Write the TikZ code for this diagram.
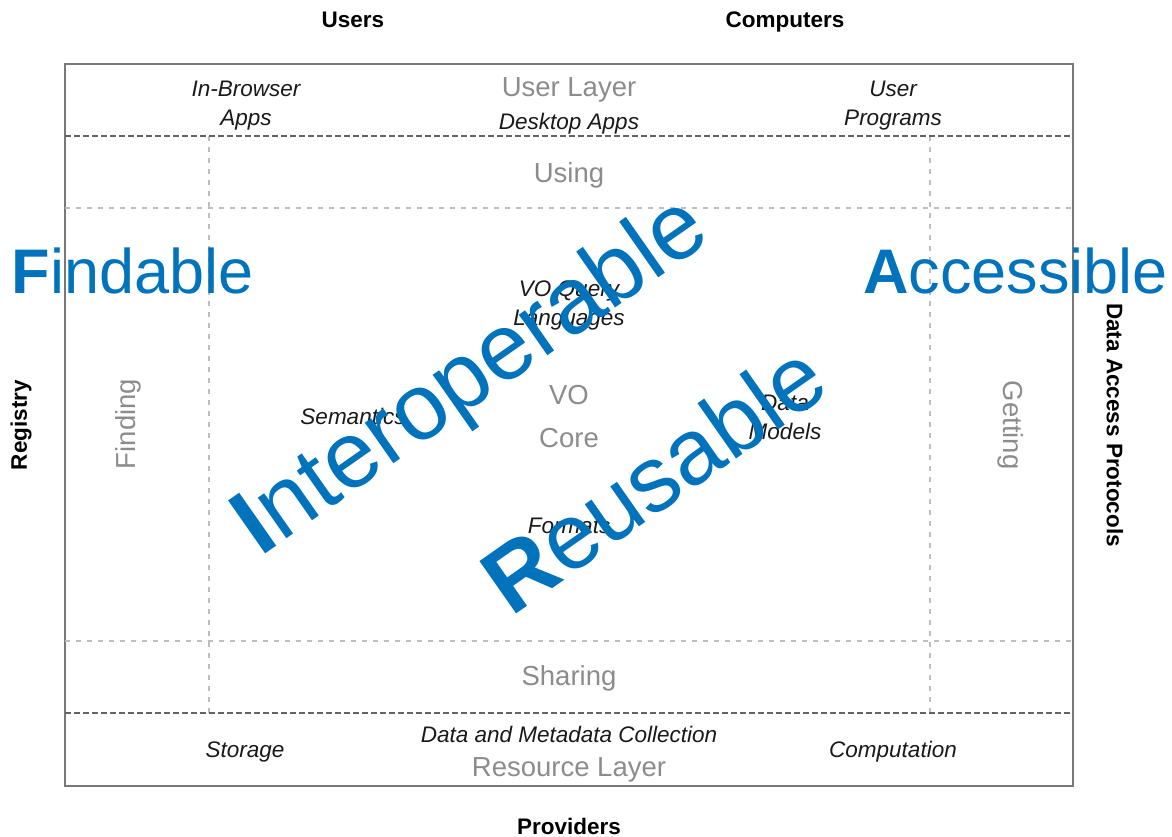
\documentclass[tikz,border=0pt]{standalone}
\usepackage{fontspec}
\setmainfont{Liberation Sans}
\definecolor{fairblue}{RGB}{0,115,188}
\definecolor{frame}{RGB}{120,120,120}
\definecolor{darkdash}{RGB}{100,100,100}
\definecolor{lightdash}{RGB}{190,190,190}
\definecolor{greytext}{RGB}{140,140,140}
\definecolor{inktext}{RGB}{25,25,25}
\tikzset{
  every node/.style={inner sep=0pt, outer sep=0pt},
  boldlab/.style={font=\fontsize{22.5}{27}\selectfont\bfseries, text=black},
  itlab/.style={font=\fontsize{22.5}{29}\selectfont\itshape, text=inktext, align=center},
  greylab/.style={font=\fontsize{27.5}{33}\selectfont, text=greytext, align=center},
  fairword/.style={font=\fontsize{63}{70}\selectfont, text=fairblue},
  bigfair/.style={font=\fontsize{94}{100}\selectfont, text=fairblue, rotate=35, anchor=base west},
  framebox/.style={draw=frame, line width=1.6pt},
  layerline/.style={draw=darkdash, line width=1.5pt, dash pattern=on 6pt off 3pt},
  zoneline/.style={draw=lightdash, line width=1.3pt, dash pattern=on 5pt off 6pt},
}
\begin{document}
\begin{tikzpicture}[x=1pt,y=-1pt]
\useasboundingbox (0,0) rectangle (1172,837);
% frame coordinates
\coordinate (tl) at (65,64);
\coordinate (br) at (1073,786);
\coordinate (ul) at (65,136);  \coordinate (ur) at (1073,136);
\coordinate (ll) at (65,713);  \coordinate (lr) at (1073,713);
\coordinate (u2l) at (65,208); \coordinate (u2r) at (1073,208);
\coordinate (l2l) at (65,641); \coordinate (l2r) at (1073,641);
\coordinate (vlt) at (209,136); \coordinate (vlb) at (209,713);
\coordinate (vrt) at (930,136); \coordinate (vrb) at (930,713);

\draw[framebox] (tl) rectangle (br);
\draw[zoneline] (u2l) -- (u2r);
\draw[zoneline] (l2l) -- (l2r);
\draw[zoneline] (vlt) -- (vlb);
\draw[zoneline] (vrt) -- (vrb);
\draw[layerline] (ul) -- (ur);
\draw[layerline] (ll) -- (lr);

% outer labels
\node[boldlab, anchor=base] (users) at (353,28) {Users};
\node[boldlab, anchor=base] (computers) at (785,28) {Computers};
\node[boldlab, anchor=base] (providers) at (569,834) {Providers};
\node[boldlab, rotate=90] (registry) at (21,425) {Registry};
\node[boldlab, rotate=-90] (dap) at (1115,425) {Data Access Protocols};

% user layer
\node[greylab, anchor=base] (userlayer) at (569,97) {User Layer};
\node[itlab, anchor=base] (browser1) at (246,97) {In-Browser};
\node[itlab, anchor=base] (browser2) at (246,126) {Apps};
\node[itlab, anchor=base] (desktop) at (569,130) {Desktop Apps};
\node[itlab, anchor=base] (prog1) at (893,97) {User};
\node[itlab, anchor=base] (prog2) at (893,126) {Programs};

% middle
\node[greylab, anchor=base] (using) at (569,183) {Using};
\node[greylab, anchor=base] (sharing) at (569,685) {Sharing};
\node[greylab, rotate=90] (finding) at (128,424) {Finding};
\node[greylab, rotate=-90] (getting) at (1011,425) {Getting};
\node[greylab, anchor=base] (vo) at (569,404) {VO};
\node[greylab, anchor=base] (core) at (569,447) {Core};
\node[itlab, anchor=base] (query1) at (569,296) {VO Query};
\node[itlab, anchor=base] (query2) at (569,325) {Languages};
\node[itlab, anchor=base] (semantics) at (353,424) {Semantics};
\node[itlab, anchor=base] (dm1) at (785,410) {Data};
\node[itlab, anchor=base] (dm2) at (785,439) {Models};
\node[itlab, anchor=base] (formats) at (569,533) {Formats};

% resource layer
\node[itlab, anchor=base] (storage) at (245,757) {Storage};
\node[itlab, anchor=base] (collection) at (569,742) {Data and Metadata Collection};
\node[greylab, anchor=base] (resource) at (569,776) {Resource Layer};
\node[itlab, anchor=base] (computation) at (893,757) {Computation};

% FAIR words
\node[fairword, anchor=base west] (findable) at (12,293) {{\bfseries F}indable};
\node[fairword, anchor=base east] (accessible) at (1168,293) {{\bfseries A}ccessible};
\node[bigfair] (interop) at (260,557) {{\bfseries I}nteroperable};
\node[bigfair, font=\fontsize{93}{100}\selectfont] (reusable) at (511,617) {{\bfseries R}eusable};
\end{tikzpicture}
\end{document}
